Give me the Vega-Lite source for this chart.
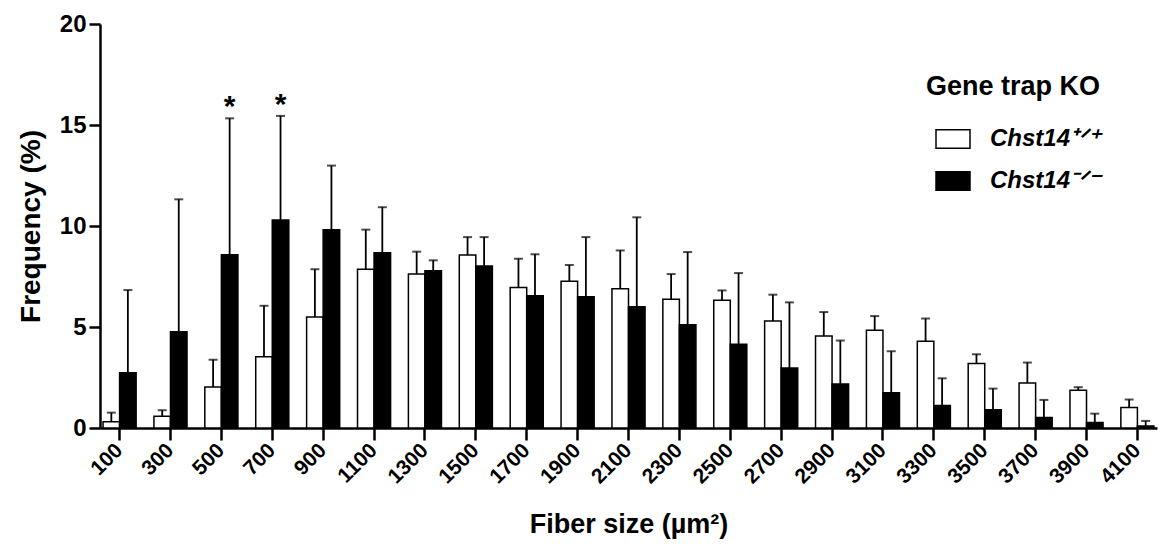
{
  "$schema": "https://vega.github.io/schema/vega-lite/v6.json",
  "autosize": "none",
  "width": 1057,
  "height": 404,
  "padding": {"left": 100, "top": 24, "right": 1, "bottom": 118},
  "background": "white",
  "config": {
    "view": {"stroke": null},
    "font": "Liberation Sans",
    "axis": {"labelFont": "Liberation Sans", "titleFont": "Liberation Sans", "labelColor": "black", "titleColor": "black", "domainColor": "black", "tickColor": "black", "labelFontWeight": "bold", "titleFontWeight": "bold", "grid": false}
  },
  "data": {
    "values": [
      {"size": 100, "g": "Chst14⁺ᐟ⁺", "freq": 0.31, "err": 0.76, "sig": ""},
      {"size": 100, "g": "Chst14⁻ᐟ⁻", "freq": 2.74, "err": 6.83, "sig": ""},
      {"size": 300, "g": "Chst14⁺ᐟ⁺", "freq": 0.58, "err": 0.88, "sig": ""},
      {"size": 300, "g": "Chst14⁻ᐟ⁻", "freq": 4.77, "err": 11.32, "sig": ""},
      {"size": 500, "g": "Chst14⁺ᐟ⁺", "freq": 2.03, "err": 3.38, "sig": ""},
      {"size": 500, "g": "Chst14⁻ᐟ⁻", "freq": 8.58, "err": 15.33, "sig": "*"},
      {"size": 700, "g": "Chst14⁺ᐟ⁺", "freq": 3.53, "err": 6.05, "sig": ""},
      {"size": 700, "g": "Chst14⁻ᐟ⁻", "freq": 10.3, "err": 15.45, "sig": "*"},
      {"size": 900, "g": "Chst14⁺ᐟ⁺", "freq": 5.5, "err": 7.86, "sig": ""},
      {"size": 900, "g": "Chst14⁻ᐟ⁻", "freq": 9.82, "err": 12.99, "sig": ""},
      {"size": 1100, "g": "Chst14⁺ᐟ⁺", "freq": 7.86, "err": 9.82, "sig": ""},
      {"size": 1100, "g": "Chst14⁻ᐟ⁻", "freq": 8.68, "err": 10.93, "sig": ""},
      {"size": 1300, "g": "Chst14⁺ᐟ⁺", "freq": 7.62, "err": 8.73, "sig": ""},
      {"size": 1300, "g": "Chst14⁻ᐟ⁻", "freq": 7.79, "err": 8.3, "sig": ""},
      {"size": 1500, "g": "Chst14⁺ᐟ⁺", "freq": 8.56, "err": 9.45, "sig": ""},
      {"size": 1500, "g": "Chst14⁻ᐟ⁻", "freq": 8.02, "err": 9.45, "sig": ""},
      {"size": 1700, "g": "Chst14⁺ᐟ⁺", "freq": 6.96, "err": 8.38, "sig": ""},
      {"size": 1700, "g": "Chst14⁻ᐟ⁻", "freq": 6.55, "err": 8.6, "sig": ""},
      {"size": 1900, "g": "Chst14⁺ᐟ⁺", "freq": 7.27, "err": 8.07, "sig": ""},
      {"size": 1900, "g": "Chst14⁻ᐟ⁻", "freq": 6.5, "err": 9.45, "sig": ""},
      {"size": 2100, "g": "Chst14⁺ᐟ⁺", "freq": 6.89, "err": 8.79, "sig": ""},
      {"size": 2100, "g": "Chst14⁻ᐟ⁻", "freq": 6.0, "err": 10.43, "sig": ""},
      {"size": 2300, "g": "Chst14⁺ᐟ⁺", "freq": 6.37, "err": 7.62, "sig": ""},
      {"size": 2300, "g": "Chst14⁻ᐟ⁻", "freq": 5.11, "err": 8.71, "sig": ""},
      {"size": 2500, "g": "Chst14⁺ᐟ⁺", "freq": 6.32, "err": 6.81, "sig": ""},
      {"size": 2500, "g": "Chst14⁻ᐟ⁻", "freq": 4.15, "err": 7.67, "sig": ""},
      {"size": 2700, "g": "Chst14⁺ᐟ⁺", "freq": 5.3, "err": 6.6, "sig": ""},
      {"size": 2700, "g": "Chst14⁻ᐟ⁻", "freq": 2.97, "err": 6.22, "sig": ""},
      {"size": 2900, "g": "Chst14⁺ᐟ⁺", "freq": 4.55, "err": 5.74, "sig": ""},
      {"size": 2900, "g": "Chst14⁻ᐟ⁻", "freq": 2.18, "err": 4.33, "sig": ""},
      {"size": 3100, "g": "Chst14⁺ᐟ⁺", "freq": 4.84, "err": 5.54, "sig": ""},
      {"size": 3100, "g": "Chst14⁻ᐟ⁻", "freq": 1.75, "err": 3.8, "sig": ""},
      {"size": 3300, "g": "Chst14⁺ᐟ⁺", "freq": 4.3, "err": 5.42, "sig": ""},
      {"size": 3300, "g": "Chst14⁻ᐟ⁻", "freq": 1.11, "err": 2.46, "sig": ""},
      {"size": 3500, "g": "Chst14⁺ᐟ⁺", "freq": 3.19, "err": 3.65, "sig": ""},
      {"size": 3500, "g": "Chst14⁻ᐟ⁻", "freq": 0.9, "err": 1.95, "sig": ""},
      {"size": 3700, "g": "Chst14⁺ᐟ⁺", "freq": 2.23, "err": 3.24, "sig": ""},
      {"size": 3700, "g": "Chst14⁻ᐟ⁻", "freq": 0.52, "err": 1.39, "sig": ""},
      {"size": 3900, "g": "Chst14⁺ᐟ⁺", "freq": 1.87, "err": 2.02, "sig": ""},
      {"size": 3900, "g": "Chst14⁻ᐟ⁻", "freq": 0.27, "err": 0.71, "sig": ""},
      {"size": 4100, "g": "Chst14⁺ᐟ⁺", "freq": 1.01, "err": 1.41, "sig": ""},
      {"size": 4100, "g": "Chst14⁻ᐟ⁻", "freq": 0.1, "err": 0.35, "sig": ""}
    ]
  },
  "encoding": {
    "x": {
      "field": "size", "type": "ordinal",
      "scale": {"paddingInner": 0.35, "paddingOuter": 0.06},
      "axis": {
        "title": "Fiber size (µm²)", "titleFontSize": 27, "titlePadding": 24,
        "labelFontSize": 21, "labelAngle": -45, "labelAlign": "right", "labelBaseline": "middle", "labelPadding": 7,
        "tickSize": 12, "tickWidth": 2.5, "domainWidth": 2.5
      }
    },
    "xOffset": {
      "field": "g", "type": "nominal",
      "scale": {"domain": ["Chst14⁺ᐟ⁺", "Chst14⁻ᐟ⁻"], "paddingInner": 0, "paddingOuter": 0}
    }
  },
  "layer": [
    {
      "mark": {"type": "bar", "stroke": "black", "strokeWidth": 1.5},
      "encoding": {
        "y": {
          "field": "freq", "type": "quantitative",
          "scale": {"domain": [0, 20], "nice": false},
          "axis": {
            "title": "Frequency (%)", "titleFontSize": 28, "titlePadding": 14,
            "values": [0, 5, 10, 15, 20], "labelFontSize": 24, "labelPadding": 3,
            "tickSize": 11, "tickWidth": 2.5, "domainWidth": 2.5
          }
        },
        "fill": {
          "field": "g", "type": "nominal",
          "scale": {"domain": ["Chst14⁺ᐟ⁺", "Chst14⁻ᐟ⁻"], "range": ["white", "black"]},
          "legend": {
            "title": "Gene trap KO", "orient": "none", "legendX": 826, "legendY": 50,
            "titleFont": "Liberation Sans", "titleFontSize": 27, "titleFontWeight": "bold", "titleColor": "black", "titlePadding": 20,
            "labelFont": "Liberation Sans", "labelFontSize": 24, "labelFontWeight": "bold", "labelFontStyle": "italic", "labelColor": "black", "labelOffset": 19,
            "symbolType": "M-1,-0.55H1V0.55H-1Z", "symbolSize": 1156, "symbolStrokeColor": "black", "symbolStrokeWidth": 1.5, "symbolOffset": 9,
            "rowPadding": 11, "padding": 0
          }
        }
      }
    },
    {
      "mark": {"type": "rule", "color": "black", "strokeWidth": 1.8},
      "encoding": {
        "y": {"field": "freq", "type": "quantitative"},
        "y2": {"field": "err"}
      }
    },
    {
      "mark": {"type": "tick", "color": "black", "size": 9, "thickness": 2, "orient": "horizontal"},
      "encoding": {
        "y": {"field": "err", "type": "quantitative"}
      }
    },
    {
      "transform": [{"filter": "datum.sig == '*'"}],
      "mark": {"type": "text", "fontSize": 30, "fontWeight": "bold", "color": "black", "baseline": "alphabetic", "dy": -2},
      "encoding": {
        "y": {"field": "err", "type": "quantitative"},
        "text": {"field": "sig"}
      }
    }
  ]
}
